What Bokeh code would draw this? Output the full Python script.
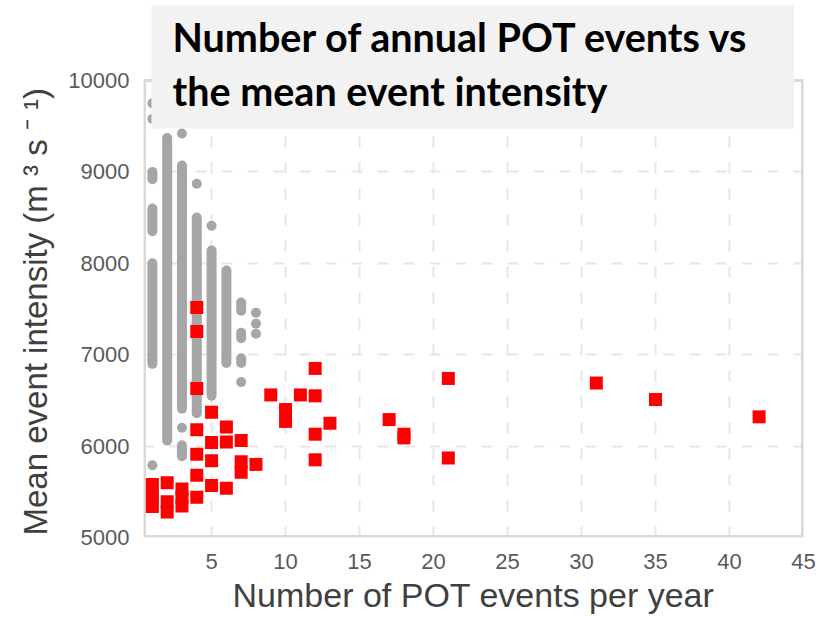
from bokeh.plotting import figure
from bokeh.models import FixedTicker, Label, Title
from bokeh.embed import file_html
from bokeh.resources import INLINE

# Gray (background) years: dense runs per event count, given as low/high mean intensity
gray_run_x = [1, 1, 1, 2, 3, 3, 4, 5, 6, 7, 7, 7]
gray_run_lo = [6900, 8350, 8920, 6060, 6410, 5890, 6360, 6550, 6910, 7480, 7180, 6910]
gray_run_hi = [8000, 8600, 9000, 9370, 9070, 6010, 8500, 8140, 7920, 7570, 7240, 6960]
# Gray isolated points
gray_pt_x = [1, 1, 1, 3, 3, 4, 5, 7, 8, 8, 8]
gray_pt_y = [9750, 9580, 5790, 9420, 6200, 8870, 8410, 6700, 7460, 7340, 7230]

# Red (observed) years
red_x = [1, 1, 1, 2, 2, 2, 3, 3, 3, 4, 4, 4, 4, 4, 4, 4, 5, 5, 5, 5, 6, 6, 6, 7, 7, 7, 8,
         9, 10, 10, 11, 12, 12, 12, 12, 13, 17, 18, 18, 21, 21, 31, 35, 42]
red_y = [5580, 5460, 5340, 5600, 5390, 5280, 5530, 5440, 5345,
         7516, 7254, 6630, 6180, 5910, 5680, 5440,
         6370, 6040, 5840, 5570, 6210, 6045, 5540, 6060, 5830, 5715, 5800,
         6560, 6400, 6270, 6560, 6850, 6550, 6130, 5850, 6250, 6290, 6130, 6090,
         6740, 5870, 6690, 6510, 6320]

x_ticks = [5, 10, 15, 20, 25, 30, 35, 40, 45]
y_ticks = [5000, 6000, 7000, 8000, 9000, 10000]
x_lo, x_hi = 0.4, 45
y_lo, y_hi = 5000, 10000

title_text = "Number of annual POT events vs\nthe mean event intensity"
x_label = "Number of POT events per year"
y_label = "Mean event intensity (m ³ s ⁻ ¹)"

# layout (pixels): axes box spans x 143..803, y 80..537; the frame reaches up to y=5 so the
# title box can overlap the top of the axes
W, H = 818, 620
box_left, box_right, box_top, box_bottom = 143, 803, 80, 537
frame_top = 5
y_top = y_hi + (y_hi - y_lo) * (box_top - frame_top) / (box_bottom - box_top)

p = figure(width=W, height=H, output_backend="svg", toolbar_location=None,
           x_range=(x_lo, x_hi), y_range=(y_lo, y_top),
           min_border_left=box_left, min_border_right=W - box_right,
           min_border_top=frame_top, min_border_bottom=H - box_bottom)

p.outline_line_color = None
p.background_fill_color = "white"
p.border_fill_color = "white"

for ax in (p.xaxis[0], p.yaxis[0]):
    ax.axis_line_color = None
    ax.major_tick_line_color = None
    ax.minor_tick_line_color = None
    ax.major_tick_out = 0
    ax.major_tick_in = 0
    ax.major_label_text_font = "Liberation Sans"
    ax.major_label_text_font_size = "22px"
    ax.major_label_text_color = "#5a5a5a"
    ax.axis_label_text_font = "Liberation Sans"
    ax.axis_label_text_font_style = "normal"
    ax.axis_label_text_font_size = "34px"
    ax.axis_label_text_color = "#404040"
    ax.major_label_standoff = 14

p.xaxis[0].ticker = FixedTicker(ticks=x_ticks)
p.yaxis[0].ticker = FixedTicker(ticks=y_ticks)
p.xaxis[0].axis_label = x_label
p.xaxis[0].major_label_standoff = 16
p.xaxis[0].axis_label_standoff = 4

# y-axis label as a side title so it can sit lower than the frame centre
ytitle = Title(text=y_label, align="left", offset=2, standoff=24,
               text_font="Liberation Sans", text_font_style="normal",
               text_font_size="33px", text_color="#404040")
p.add_layout(ytitle, "left")

for g in (p.xgrid[0], p.ygrid[0]):
    g.grid_line_color = "#e6e6e6"
    g.grid_line_width = 2
    g.grid_line_dash = "11 15"

# axes box border (light gray)
p.line(x=[x_lo, x_lo, x_hi, x_hi], y=[y_hi, y_lo, y_lo, y_hi], line_color="#d9d9d9", line_width=5)
p.line(x=[x_lo, x_hi], y=[y_hi, y_hi], line_color="#d9d9d9", line_width=3)

p.segment(x0=gray_run_x, y0=gray_run_lo, x1=gray_run_x, y1=gray_run_hi,
          line_color="#a6a6a6", line_width=10, line_cap="round")
p.scatter(x=gray_pt_x, y=gray_pt_y, size=10, fill_color="#a6a6a6", line_color=None)
p.scatter(x=red_x, y=red_y, marker="square", size=13, fill_color="#ff0000", line_color=None)

title = Label(x=151 - box_left, y=box_bottom - frame_top, x_units="screen", y_units="screen",
              text=title_text,
              text_font="Lato", text_font_style="bold", text_font_size="39.5px",
              text_color="black", text_align="left", text_baseline="top",
              text_line_height=1.15,
              background_fill_color="#f2f2f2", background_fill_alpha=1.0,
              padding=dict(left=21, right=44, top=7, bottom=15))
p.add_layout(title)

open("out.html", "w").write(file_html(p, INLINE))
